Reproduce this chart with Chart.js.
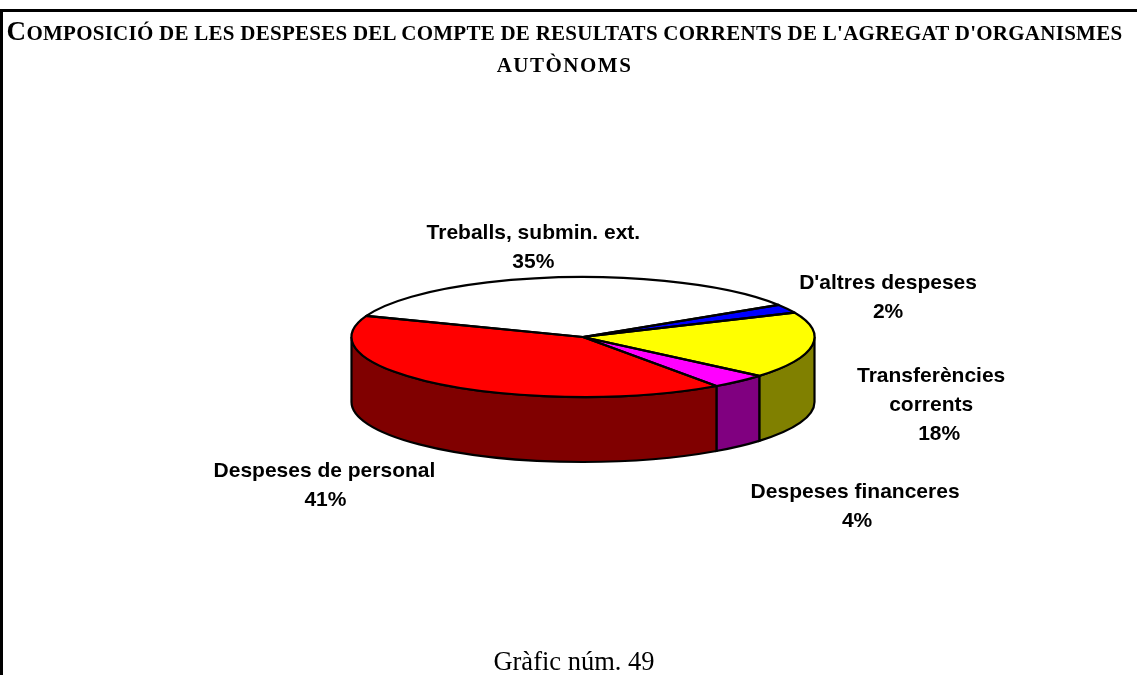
<!DOCTYPE html>
<html lang="ca">
<head>
<meta charset="utf-8">
<title>Composició de les despeses</title>
<script src="https://cdn.jsdelivr.net/npm/chart.js@4/dist/chart.umd.min.js"></script>
<style>
    html, body { margin: 0; padding: 0; background: #fff; }
    #page { position: relative; width: 1137px; height: 675px; overflow: hidden; }
    #frame { position: absolute; left: 0; top: 9px; width: 1137px; height: 666px; box-sizing: border-box;
             border-top: 3px solid #000; border-left: 3px solid #000; }
    #title { position: absolute; left: 0; top: 15px; width: 1129px; text-align: center; color: #000;
             font: bold 21px/32px "Liberation Serif", serif; letter-spacing: 0.26px; white-space: nowrap; }
    #title .big { font-size: 27px; }
    #title .second { letter-spacing: 1.5px; }
    #caption { position: absolute; left: 0; top: 646px; width: 1148px; text-align: center; color: #000;
               font: 26.5px "Liberation Serif", serif; }
    #chart { position: absolute; left: 0; top: 0; }
</style>
</head>
<body>
<div id="page">
    <div id="frame"></div>
    <canvas id="chart" width="1137" height="675"></canvas>
    <div id="title"><span class="big">C</span>OMPOSICIÓ DE LES DESPESES DEL COMPTE DE RESULTATS CORRENTS DE L'AGREGAT D'ORGANISMES<br><span class="second">AUTÒNOMS</span></div>
    <div id="caption">Gràfic núm. 49</div>
</div>
<script>
// values, clockwise starting at the white slice
const categories = [
    ['Treballs, submin. ext.'],
    ["D'altres despeses"],
    ['Transferències', 'corrents'],
    ['Despeses financeres'],
    ['Despeses de personal']
];
const values = [35.3, 2.3, 17.9, 4.0, 40.5];
const topColors = ['#ffffff', '#0000ff', '#ffff00', '#ff00ff', '#ff0000'];
const sideColors = ['#808080', '#000080', '#808000', '#800080', '#800000'];

// look of the tilted pie
const radiusX = 231.5;
const radiusY = 60;
const depth = 65;
const centerY = 337;

// label offset from the middle of each slice rim, first line centre
const labelOffsets = [[-26, -44], [101, -25], [119, 31], [116, 111], [-117, 87]];
const percentShift = [0, 0, 8, 2, 1];
const lineHeight = 28.7;

function slices(chart) {
    return chart.getDatasetMeta(0).data.map(function(arc) {
        return arc.getProps(['x', 'startAngle', 'endAngle']);
    });
}

const tiltedPie = {
    id: 'tiltedPie',
    beforeDatasetsDraw(chart) {
        const ctx = chart.ctx;
        const cx = slices(chart)[0].x;

        // side walls, only the front half of the pie shows them
        ctx.save();
        ctx.lineWidth = 2.2;
        ctx.strokeStyle = '#000';
        slices(chart).forEach(function(s, i) {
            [0, Math.PI * 2].forEach(function(turn) {
                const a = Math.max(s.startAngle - turn, 0);
                const b = Math.min(s.endAngle - turn, Math.PI);
                if (a >= b) return;
                ctx.beginPath();
                ctx.ellipse(cx, centerY, radiusX, radiusY, 0, a, b);
                ctx.ellipse(cx, centerY + depth, radiusX, radiusY, 0, b, a, true);
                ctx.closePath();
                ctx.fillStyle = sideColors[i];
                ctx.fill();
                ctx.stroke();
            });
        });
        ctx.restore();

        // squash the arcs chart.js is about to draw
        const cy = chart.getDatasetMeta(0).data[0].y;
        ctx.save();
        ctx.translate(cx, centerY);
        ctx.scale(1, radiusY / radiusX);
        ctx.translate(-cx, -cy);
    },
    afterDatasetsDraw(chart) {
        const ctx = chart.ctx;
        ctx.restore();

        const cx = slices(chart)[0].x;

        // outlines here so the line width is not squashed too
        ctx.save();
        ctx.lineWidth = 2.2;
        ctx.strokeStyle = '#000';
        ctx.lineJoin = 'round';
        slices(chart).forEach(function(s) {
            ctx.beginPath();
            ctx.moveTo(cx, centerY);
            ctx.ellipse(cx, centerY, radiusX, radiusY, 0, s.startAngle, s.endAngle);
            ctx.closePath();
            ctx.stroke();
        });
        ctx.restore();

        // labels with their percentages
        ctx.save();
        ctx.fillStyle = '#000';
        ctx.font = 'bold 21px "Liberation Sans", Arial, sans-serif';
        ctx.textAlign = 'center';
        ctx.textBaseline = 'middle';
        slices(chart).forEach(function(s, i) {
            const mid = (s.startAngle + s.endAngle) / 2;
            const x = cx + radiusX * Math.cos(mid) + labelOffsets[i][0];
            let y = centerY + radiusY * Math.sin(mid) + labelOffsets[i][1];
            categories[i].forEach(function(line) {
                ctx.fillText(line, x, y);
                y += lineHeight;
            });
            ctx.fillText(Math.round(values[i]) + '%', x + percentShift[i], y);
        });
        ctx.restore();
    }
};

new Chart(document.getElementById('chart'), {
    type: 'pie',
    data: {
        labels: categories.map(function(c) { return c.join(' '); }),
        datasets: [{
            data: values,
            backgroundColor: topColors,
            borderWidth: 0
        }]
    },
    options: {
        responsive: false,
        animation: false,
        rotation: 290.6,
        radius: radiusX,
        layout: { padding: { left: 29 } },
        plugins: {
            legend: { display: false },
            tooltip: { enabled: false }
        }
    },
    plugins: [tiltedPie]
});
</script>
</body>
</html>
